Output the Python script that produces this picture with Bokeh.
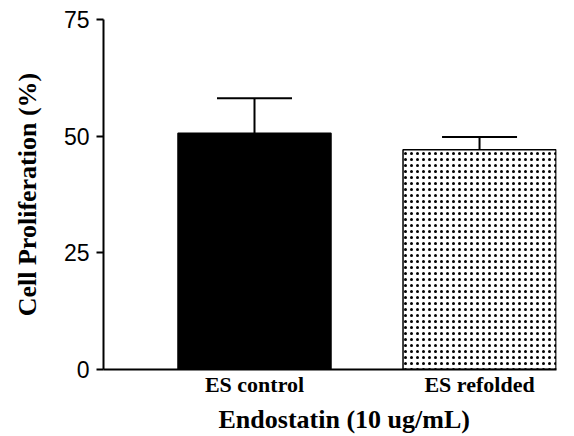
from bokeh.plotting import figure
from bokeh.models import ColumnDataSource, Whisker, TeeHead, Range1d, FixedTicker, Title
from bokeh.embed import file_html
from bokeh.resources import INLINE

categories = ["ES control", "ES refolded"]
means = [50.6, 47.1]
errors = [7.5, 2.7]
y_ticks = [0, 25, 50, 75]
x_title = "Endostatin (10 ug/mL)"
y_title = "Cell Proliferation (%)"

xs = [i + 1 for i in range(len(categories))]
src = ColumnDataSource(dict(
    x=xs, top=means,
    upper=[m + e for m, e in zip(means, errors)],
    hatch=["blank", "dot"],
    fill=["black", "white"],
))

p = figure(width=574, height=436, output_backend="svg", toolbar_location=None,
           x_range=Range1d(0.329, 2.342), y_range=Range1d(0, 75),
           min_border_left=103, min_border_right=18, min_border_top=19, min_border_bottom=67)
p.outline_line_color = None
p.xgrid.visible = False
p.ygrid.visible = False
p.background_fill_color = "white"

p.vbar(x="x", top="top", bottom=0, width=0.68, source=src,
       fill_color="fill", line_color="black", line_width=1.5,
       hatch_pattern="hatch", hatch_color="black", hatch_scale=6, hatch_weight=5)

w = Whisker(base="x", lower="top", upper="upper", source=src,
            line_color="black", line_width=2,
            lower_head=None, upper_head=TeeHead(size=75, line_width=2, line_color="black"))
p.add_layout(w)

p.yaxis.ticker = FixedTicker(ticks=y_ticks)
p.yaxis.minor_tick_line_color = None
p.yaxis.major_tick_out = 7
p.yaxis.major_tick_in = 0
p.yaxis.major_tick_line_width = 2
p.yaxis.axis_line_width = 2
p.yaxis.major_label_text_font = "Liberation Sans"
p.yaxis.major_label_text_font_size = "23px"
p.yaxis.major_label_text_color = "black"
p.yaxis.major_label_standoff = 7
p.yaxis.axis_label = y_title
p.yaxis.axis_label_text_font = "Liberation Serif"
p.yaxis.axis_label_text_font_style = "bold"
p.yaxis.axis_label_text_font_size = "26px"
p.yaxis.axis_label_text_color = "black"
p.yaxis.axis_label_standoff = 19

p.xaxis.ticker = FixedTicker(ticks=xs)
p.xaxis.major_label_overrides = {x: c for x, c in zip(xs, categories)}
p.xaxis.minor_tick_line_color = None
p.xaxis.major_tick_line_color = None
p.xaxis.axis_line_width = 2
p.xaxis.major_label_text_font = "Liberation Serif"
p.xaxis.major_label_text_font_style = "bold"
p.xaxis.major_label_text_font_size = "22px"
p.xaxis.major_label_text_color = "black"
p.xaxis.major_label_standoff = -4

p.add_layout(Title(text=x_title, align="left", offset=115,
                   text_font="Liberation Serif", text_font_style="bold",
                   text_font_size="26px", text_color="black", standoff=6), "below")

open("out.html", "w").write(file_html(p, INLINE))
